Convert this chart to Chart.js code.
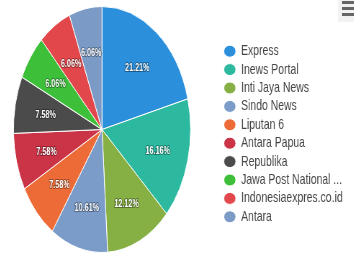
<!DOCTYPE html>
<html>
<head>
<meta charset="utf-8">
<script src="https://cdn.jsdelivr.net/npm/chart.js@4/dist/chart.umd.min.js"></script>
<style>
  html, body { margin: 0; padding: 0; background: #fff; overflow: hidden; }
  #wrap { position: absolute; left: -17px; top: 0; width: 515px; height: 255px; transform: scaleX(0.72); transform-origin: 0 0; }
  #menu { position: absolute; right: 0; top: 0; width: 16px; height: 22px; background: #f2f2f2; }
  #menu span { position: absolute; left: 4px; width: 12px; height: 3px; background: #666; }
</style>
</head>
<body>
<div id="wrap"><canvas id="myChart" width="515" height="255"></canvas></div>
<div id="menu"><span style="top:1px"></span><span style="top:7px"></span><span style="top:13px"></span></div>
<script>
const portals = [
  "Express",
  "Inews Portal",
  "Inti Jaya News",
  "Sindo News",
  "Liputan 6",
  "Antara Papua",
  "Republika",
  "Jawa Post National ...",
  "Indonesiaexpres.co.id",
  "Antara",
];
const shares = [21.21, 16.16, 12.12, 10.61, 7.58, 7.58, 7.58, 6.06, 6.06, 6.06];
const slice_colors = [
  "#2b8fdc", "#2db9a0", "#86b043", "#7b9cc9", "#ec6b36",
  "#cb3347", "#4b4b4b", "#3dbf3a", "#e2474b", "#7b9bc6",
];

// percent labels inside the slices
const sliceLabels = {
  id: "sliceLabels",
  afterDatasetsDraw(chart) {
    const ctx = chart.ctx;
    const meta = chart.getDatasetMeta(0);
    ctx.save();
    ctx.font = "bold 10px Arial";
    ctx.textAlign = "center";
    ctx.textBaseline = "middle";
    ctx.lineJoin = "round";
    meta.data.forEach((arc, i) => {
      const p = arc.getProps(["x", "y", "startAngle", "endAngle", "outerRadius"], true);
      const mid = (p.startAngle + p.endAngle) / 2;
      const r = p.outerRadius * 0.65;
      const x = p.x + Math.cos(mid) * r;
      const y = p.y + Math.sin(mid) * r + 2;
      const txt = shares[i].toFixed(2) + "%";
      ctx.lineWidth = 2;
      ctx.strokeStyle = "rgba(0,0,0,0.35)";
      ctx.strokeText(txt, x, y);
      ctx.fillStyle = "#fff";
      ctx.fillText(txt, x, y);
    });
    ctx.restore();
  },
};

const config = {
  type: "pie",
  data: {
    labels: portals,
    datasets: [
      {
        data: shares,
        backgroundColor: slice_colors,
        borderColor: "#fff",
        borderWidth: 1,
      },
    ],
  },
  options: {
    responsive: false,
    animation: false,
    layout: { padding: { left: 0, top: 6, bottom: 2, right: 5.5 } },
    plugins: {
      tooltip: { enabled: false },
      legend: {
        position: "right",
        title: { display: true, text: "", font: { size: 5, lineHeight: 1.8 } },
        labels: {
          usePointStyle: true,
          pointStyle: "circle",
          boxHeight: 8.5,
          pointStyleWidth: 16.7,
          padding: 3.9,
          color: "#444",
          font: { family: "Arial", size: 14.5 },
        },
      },
    },
  },
  plugins: [sliceLabels],
};

const myChart = new Chart(document.getElementById("myChart"), config);
</script>
</body>
</html>
